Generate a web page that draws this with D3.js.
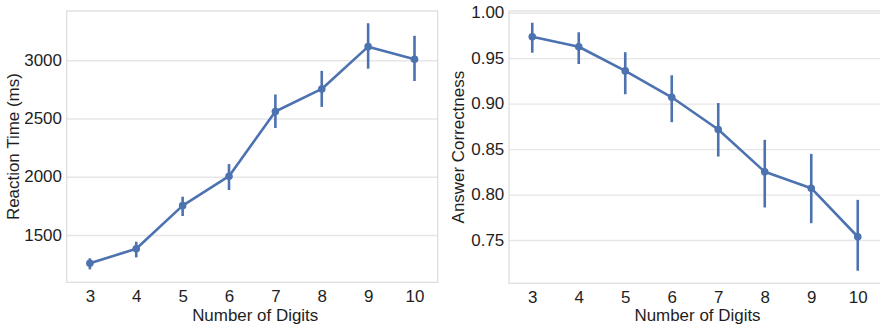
<!DOCTYPE html>
<html>
<head>
<meta charset="utf-8">
<script src="https://cdn.jsdelivr.net/npm/d3@7"></script>
<style>
  html, body { margin: 0; padding: 0; background: #fff; }
  svg { display: block; }
  text { font-family: "Liberation Sans", Arial, Helvetica, sans-serif; fill: #1e1e1e; }
</style>
</head>
<body>
<svg id="chart" width="880" height="328"></svg>
<script>
// ---- data ----
const digits = ["3", "4", "5", "6", "7", "8", "9", "10"];

const rtMean = [1257, 1382, 1752, 2005, 2560, 2754, 3117, 3009];
const rtLow  = [1205, 1308, 1663, 1886, 2419, 2600, 2928, 2822];
const rtHigh = [1300, 1442, 1829, 2109, 2706, 2909, 3318, 3210];
const rtTicks = [1500, 2000, 2500, 3000];

const accMean = [0.9736, 0.9626, 0.936, 0.907, 0.8715, 0.825, 0.807, 0.7536];
const accLow  = [0.956, 0.9436, 0.9103, 0.8796, 0.8418, 0.7858, 0.7685, 0.7162];
const accHigh = [0.989, 0.9785, 0.9566, 0.9312, 0.9007, 0.8602, 0.8448, 0.7942];
const accTicks = [0.75, 0.80, 0.85, 0.90, 0.95, 1.00];

const xTitle = "Number of Digits";
const rtTitle = "Reaction Time (ms)";
const accTitle = "Answer Correctness";

// ---- drawing ----
const svg = d3.select("#chart");
const blue = "#4c72b0";
const FS = 16;        // font size
const SX = 1.06;      // horizontal stretch of the reference lettering

function styleTicks(a) {
  a.selectAll(".tick text")
    .attr("font-size", FS)
    .attr("font-family", '"Liberation Sans", Arial, sans-serif')
    .style("fill", "#1e1e1e")
    .attr("transform", `scale(${SX},1)`);
}

function panel(cfg) {
  const g = svg.append("g");
  const x = d3.scalePoint().domain(digits).range([cfg.left, cfg.right]).padding(0.5);
  const y = d3.scaleLinear().domain(cfg.yDomain).range([cfg.bottom, cfg.top]);

  // grid + y tick labels
  g.append("g")
    .attr("transform", `translate(${cfg.left},0)`)
    .call(d3.axisLeft(y).tickValues(cfg.ticks).tickSize(-(cfg.right - cfg.left)).tickFormat(cfg.fmt).tickPadding(4.5))
    .call(a => a.select(".domain").remove())
    .call(a => a.selectAll(".tick line").attr("stroke", "#e6e6e6").attr("stroke-width", 1.3))
    .call(styleTicks);

  // frame
  g.append("rect")
    .attr("x", cfg.left).attr("y", cfg.top)
    .attr("width", cfg.right - cfg.left).attr("height", cfg.bottom - cfg.top)
    .attr("fill", "none").attr("stroke", "#dedede").attr("stroke-width", 1.3);

  // x axis labels
  g.append("g")
    .attr("transform", `translate(0,${cfg.bottom})`)
    .call(d3.axisBottom(x).tickSize(0).tickPadding(8.3))
    .call(a => a.select(".domain").remove())
    .call(styleTicks);

  // titles
  const cx = (cfg.left + Math.min(cfg.right, 880)) / 2 + cfg.xTitleShift;
  g.append("text")
    .attr("transform", `translate(${cx},320.5) scale(${SX},1)`)
    .attr("text-anchor", "middle")
    .attr("font-size", FS)
    .text(xTitle);

  g.append("text")
    .attr("transform", `translate(${cfg.yTitleX},${(cfg.top + cfg.bottom) / 2}) rotate(-90) scale(${SX},1)`)
    .attr("text-anchor", "middle")
    .attr("font-size", FS)
    .text(cfg.yTitle);

  // error bars
  g.selectAll("line.err")
    .data(digits)
    .join("line")
    .attr("class", "err")
    .attr("x1", d => x(d)).attr("x2", d => x(d))
    .attr("y1", (d, i) => y(cfg.low[i])).attr("y2", (d, i) => y(cfg.high[i]))
    .attr("stroke", blue).attr("stroke-width", 2.6);

  // line
  const line = d3.line().x((d, i) => x(digits[i])).y(d => y(d));
  g.append("path")
    .datum(cfg.mean)
    .attr("d", line)
    .attr("fill", "none")
    .attr("stroke", blue)
    .attr("stroke-width", 2.6)
    .attr("stroke-linejoin", "round");

  // points
  g.selectAll("circle.pt")
    .data(cfg.mean)
    .join("circle")
    .attr("class", "pt")
    .attr("cx", (d, i) => x(digits[i]))
    .attr("cy", d => y(d))
    .attr("r", 3.8)
    .attr("fill", blue);
}

panel({
  left: 66.7, right: 437.7, top: 11, bottom: 282.3,
  yDomain: [1094, 3423], ticks: rtTicks, fmt: d3.format("d"),
  mean: rtMean, low: rtLow, high: rtHigh,
  yTitle: rtTitle, yTitleX: 19, xTitleShift: 3
});

panel({
  left: 509, right: 881, top: 11, bottom: 283.3,
  yDomain: [0.7024, 1.0019], ticks: accTicks, fmt: d3.format(".2f"),
  mean: accMean, low: accLow, high: accHigh,
  yTitle: accTitle, yTitleX: 464, xTitleShift: 3
});
</script>
</body>
</html>
